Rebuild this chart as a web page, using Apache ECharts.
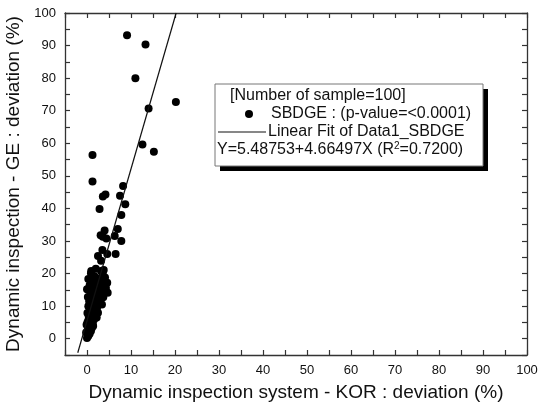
<!DOCTYPE html>
<html>
<head>
<meta charset="utf-8">
<script src="https://cdn.jsdelivr.net/npm/echarts@6/dist/echarts.min.js"></script>
<style>
  html, body { margin: 0; padding: 0; background: #fff; }
  #chart { width: 547px; height: 404px; }
</style>
</head>
<body>
<div id="chart"></div>
<script>
// KOR deviation (x) vs GE deviation (y)
const korDev = [
  9.1, 13.3, 11.0, 20.2, 14.0, 12.6, 15.2, 1.25, 1.25, 8.2,
  4.2, 3.6, 7.5, 8.7, 2.85, 7.8, 7.0, 4.0, 3.1, 3.6,
  4.4, 6.3, 7.8, 3.5, 2.5, 4.6, 6.5, 3.2, 0.96, 3.2,
  3.8,
  0.0, 0.3, 0.6, -0.2, 0.9, 0.2, 1.1,
  0.5, -0.1, 1.3, 0.8, 0.3, 1.6,
  1.0, 0.4, 1.8, 1.2, 0.1, 2.0, 0.7, 1.5,
  0.9, 2.3, 0.3, 1.7, 2.7, 1.1, 0.5, 2.1, 3.0,
  1.4, 2.6, 0.2, 3.3, 1.9, 0.8, 2.9, 3.8, 1.2, 2.4,
  0.0, 3.5, 4.3, 1.6, 2.9, 0.6, 3.9, 2.2, 4.6, 1.1, 3.2,
  0.3, 2.6, 4.1, 1.7, 3.6, 0.9, 2.0,
  0.4, 1.4, 0.1, 2.2, 1.6, 0.6, 3.4, 2.5, 1.0, 3.7, 4.7
];
const geDev = [
  93.2, 90.3, 80.0, 72.7, 70.7, 59.6, 57.4, 56.4, 48.3, 46.9,
  44.3, 43.7, 43.9, 41.3, 39.8, 38.0, 33.7, 33.2, 31.8, 31.3,
  30.8, 31.5, 30.0, 27.2, 25.4, 26.0, 26.0, 23.9, 20.8, 20.8,
  21.1,
  0.2, 0.8, 1.5, 1.9, 2.4, 3.0, 3.3,
  3.8, 4.3, 4.6, 5.1, 5.6, 5.9,
  6.3, 6.8, 7.1, 7.5, 7.9, 8.3, 8.6, 8.9,
  9.3, 9.6, 10.0, 10.3, 10.7, 11.0, 11.4, 11.7, 11.9,
  12.2, 12.5, 12.8, 13.1, 13.4, 13.7, 14.0, 14.3, 14.6, 14.9,
  15.2, 15.3, 15.6, 15.8, 16.1, 16.4, 16.7, 17.0, 17.2, 17.5, 17.8,
  18.3, 18.5, 18.8, 19.2, 19.6, 20.1, 21.5,
  2.2, 3.9, 5.0, 6.5, 9.9, 12.0, 10.5, 8.0, 16.0, 12.7, 14.1
];

// linear fit: Y = intercept + slope * X
const fitIntercept = 5.48753;
const fitSlope = 4.66497;
const fitXStart = -2.1;

const myChart = echarts.init(document.getElementById('chart'));

const fitXEnd = (100 - fitIntercept) / fitSlope;
const fitLine = [fitXStart, fitXEnd].map(x => [x, fitIntercept + fitSlope * x]);

const axisCommon = {
  type: 'value',
  min: -5,
  max: 100,
  interval: 5,
  axisLine: { show: true, onZero: false, lineStyle: { color: '#333', width: 1.3 } },
  axisTick: { show: true, inside: true, length: 5, lineStyle: { color: '#333', width: 1.2 } },
  splitLine: { show: false }
};
const labelFmt = v => (v >= 0 && v % 10 === 0) ? String(v) : '';
const fontFam = '"Liberation Sans", Arial, sans-serif';

const options = {
  animation: false,
  textStyle: { fontFamily: fontFam },
  grid: { left: 65, right: 20, top: 13, bottom: 49, containLabel: false, outerBoundsMode: 'none' },
  xAxis: [
    {
      ...axisCommon,
      position: 'bottom',
      name: 'Dynamic inspection system - KOR : deviation (%)',
      nameLocation: 'middle',
      nameGap: 28,
      nameTextStyle: { fontSize: 19, color: '#111', fontFamily: fontFam },
      axisLabel: { formatter: labelFmt, fontSize: 13, color: '#111', margin: 9, fontFamily: fontFam }
    },
    {
      ...axisCommon,
      position: 'top',
      axisLabel: { show: false }
    }
  ],
  yAxis: [
    {
      ...axisCommon,
      position: 'left',
      name: 'Dynamic inspection - GE : deviation (%)',
      nameLocation: 'middle',
      nameGap: 35,
      nameTextStyle: { fontSize: 19, color: '#111', fontFamily: fontFam },
      axisLabel: { formatter: labelFmt, fontSize: 13, color: '#111', margin: 9, fontFamily: fontFam }
    },
    {
      ...axisCommon,
      position: 'right',
      axisLabel: { show: false }
    }
  ],
  series: [
    {
      name: 'SBDGE',
      type: 'scatter',
      data: korDev.map((x, i) => [x, geDev[i]]),
      symbolSize: 8,
      itemStyle: { color: '#000', opacity: 1 }
    },
    {
      name: 'Linear Fit of Data1_SBDGE',
      type: 'line',
      data: fitLine,
      symbol: 'none',
      lineStyle: { color: '#111', width: 1.2 }
    }
  ],
  // legend box drawn by hand, as in the original
  graphic: [
    { type: 'rect', shape: { x: 220, y: 89, width: 268, height: 82 }, style: { fill: '#000' }, z: 10 },
    { type: 'rect', shape: { x: 215, y: 84, width: 268, height: 82 }, style: { fill: '#fff', stroke: '#777', lineWidth: 1 }, z: 11 },
    { type: 'text', x: 230, y: 96, style: { text: '[Number of sample=100]', fontSize: 16, fill: '#111', fontFamily: fontFam, verticalAlign: 'middle' }, z: 12 },
    { type: 'circle', shape: { cx: 249, cy: 114, r: 4 }, style: { fill: '#000' }, z: 12 },
    { type: 'text', x: 271, y: 114, style: { text: 'SBDGE : (p-value=<0.0001)', fontSize: 16, fill: '#111', fontFamily: fontFam, verticalAlign: 'middle' }, z: 12 },
    { type: 'line', shape: { x1: 218, y1: 132, x2: 266, y2: 132 }, style: { stroke: '#111', lineWidth: 1.2 }, z: 12 },
    { type: 'text', x: 268, y: 132, style: { text: 'Linear Fit of Data1_SBDGE', fontSize: 16, fill: '#111', fontFamily: fontFam, verticalAlign: 'middle' }, z: 12 },
    {
      type: 'text', x: 217, y: 150, z: 12,
      style: {
        text: '{a|Y=5.48753+4.66497X (R}{s|2}{a|=0.7200)}',
        verticalAlign: 'middle',
        rich: {
          a: { fontSize: 16, fill: '#111', fontFamily: fontFam },
          s: { fontSize: 10, fill: '#111', fontFamily: fontFam, verticalAlign: 'top', padding: [0, 0, 8, 0] }
        }
      }
    }
  ]
};

myChart.setOption(options);
</script>
</body>
</html>
